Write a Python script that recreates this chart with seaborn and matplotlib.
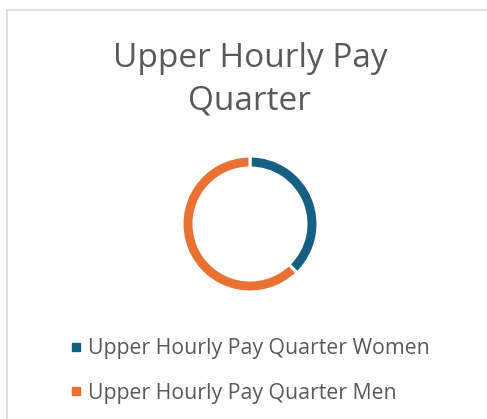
import matplotlib
matplotlib.use("Agg")
import matplotlib.pyplot as plt
import seaborn as sns
from matplotlib.patches import Rectangle
from matplotlib.lines import Line2D

sns.set_theme(style="white")
plt.rcParams['font.family'] = ['Open Sans', 'DejaVu Sans']

title = "Upper Hourly Pay\nQuarter"
categories = ["Upper Hourly Pay Quarter Women", "Upper Hourly Pay Quarter Men"]
values = [37.8, 62.2]
colors = ["#156082", "#E97132"]
text_color = "#595959"

W, H = 487, 419
fig = plt.figure(figsize=(W / 100, H / 100), dpi=100)

# frame border
fig.patches.append(Rectangle((6.5 / W, -0.1), 1.2, 1 - 10.5 / H + 0.1,
                             transform=fig.transFigure, fill=False,
                             edgecolor="#d9d9d9", linewidth=1.2))

# donut axes: center (250,224), radius 68
cx, cy, r = 250, 224, 68
ax = fig.add_axes([(cx - r) / W, 1 - (cy + r) / H, 2 * r / W, 2 * r / H])
ax.pie(values, colors=colors, startangle=90, counterclock=False,
       radius=1.0, wedgeprops=dict(width=12 / 68, edgecolor="white", linewidth=2.2))
ax.set_xlim(-1, 1)
ax.set_ylim(-1, 1)
ax.set_aspect("equal")
ax.axis("off")

fig.text(250 / W, 1 - 80 / H, title, ha="center", va="center",
         fontsize=24, color=text_color, linespacing=1.38)

handles = [Line2D([0], [0], marker="s", linestyle="none", markersize=6,
                  markerfacecolor=c, markeredgecolor=c) for c in colors]
fig.legend(handles, categories, loc="center left",
           bbox_to_anchor=(57 / W, 1 - 371 / H), frameon=False,
           fontsize=15.3, labelcolor=text_color, handletextpad=0.05,
           labelspacing=1.1, handlelength=1.0, borderaxespad=0)

fig.savefig("out.png", dpi=100)
